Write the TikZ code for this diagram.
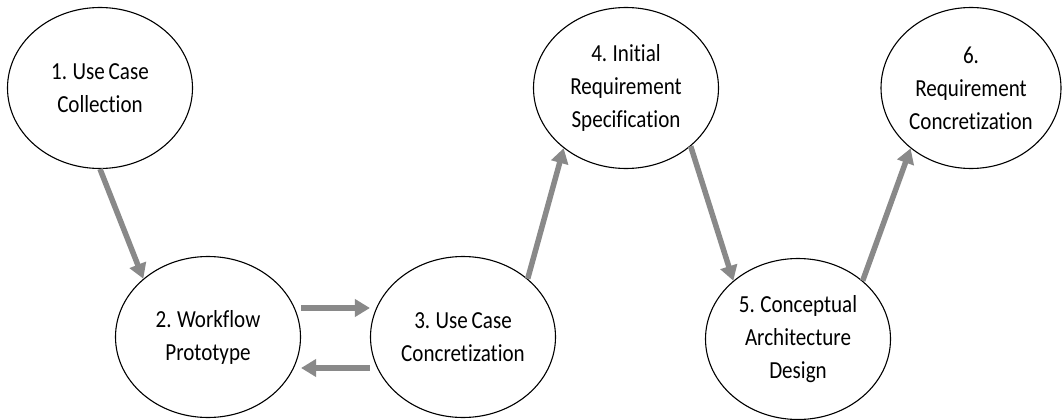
\documentclass[tikz,border=0pt]{standalone}
\usepackage{fontspec}
\setmainfont{Carlito}[Ligatures=NoCommon, WordSpace=0.8, FakeStretch=0.86]
\usetikzlibrary{arrows.meta,shapes.geometric}
\definecolor{flowgray}{RGB}{137,137,137}
\tikzset{
  stage/.style={ellipse, draw=black, line width=1.1pt, fill=white,
    minimum width=185pt, minimum height=161pt, inner sep=0pt,
    align=center, font=\fontsize{24.5pt}{33pt}\selectfont},
  flow/.style={draw=flowgray, line width=5.5pt,
    -{Triangle[length=15pt,width=17pt]}}
}
\begin{document}
\begin{tikzpicture}[x=1pt,y=-1pt]
\useasboundingbox (0,0) rectangle (1063,420);

% process stages
\node[stage] (n1) at (100,88)  {1. Use Case\\Collection};
\node[stage] (n2) at (208,337) {2. Workflow\\Prototype};
\node[stage] (n3) at (463,337) {3. Use Case\\Concretization};
\node[stage] (n4) at (626,88)  {4. Initial\\Requirement\\Specification};
\node[stage] (n5) at (798,339) {5. Conceptual\\Architecture\\Design};
\node[stage, minimum width=180pt] (n6) at (971,88) {6.\\Requirement\\Concretization};

% transitions
\draw[flow] (n1.south) -- (n2.138);
\draw[flow] ([yshift=29pt]n2.east) -- ([yshift=29pt]n3.west);
\draw[flow] ([yshift=-31pt]n3.west) -- ([yshift=-31pt]n2.east);
\draw[flow] (n3.42) -- (n4.224);
\draw[flow] (n4.318) -- (n5.138);
\draw[flow] (n5.42) -- (n6.225);
\end{tikzpicture}
\end{document}
